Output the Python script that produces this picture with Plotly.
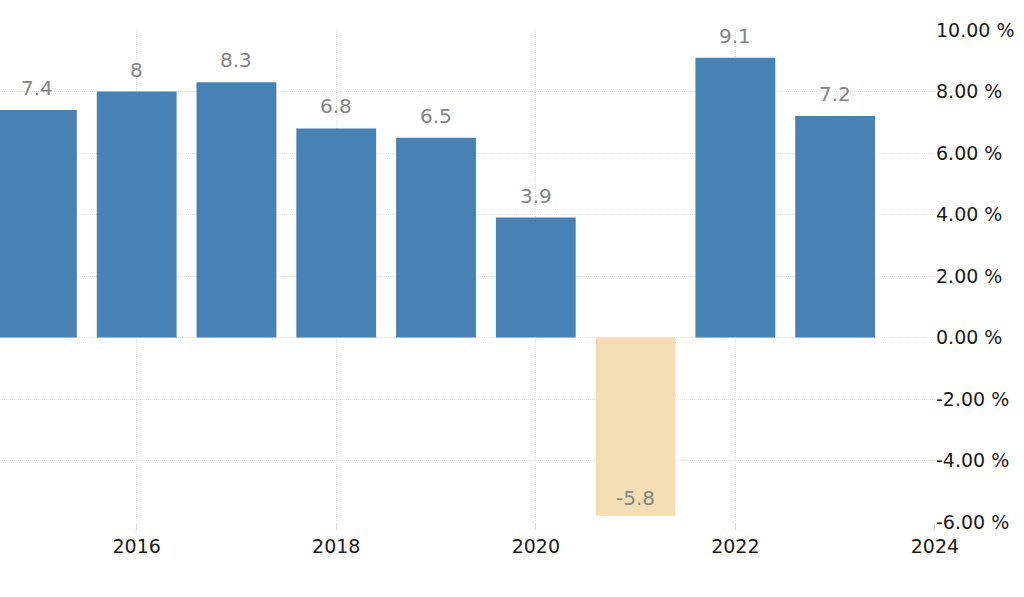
import plotly.graph_objects as go

years = [2015, 2016, 2017, 2018, 2019, 2020, 2021, 2022, 2023]
values = [7.4, 8.0, 8.3, 6.8, 6.5, 3.9, -5.8, 9.1, 7.2]
labels = ["7.4", "8", "8.3", "6.8", "6.5", "3.9", "-5.8", "9.1", "7.2"]
x_ticks = [2016, 2018, 2020, 2022, 2024]
y_ticks = [-6, -4, -2, 0, 2, 4, 6, 8, 10]
y_ticktext = ["-6.00 %", "-4.00 %", "-2.00 %", "0.00 %", "2.00 %",
              "4.00 %", "6.00 %", "8.00 %", "10.00 %"]

POS = "#4682B4"
NEG = "#F5DEB3"
colors = [POS if v >= 0 else NEG for v in values]

fig = go.Figure(go.Bar(
    x=years, y=values, width=0.8,
    marker=dict(color=colors, line=dict(width=0)),
    hoverinfo="x+y",
))

for x, v, t in zip(years, values, labels):
    fig.add_annotation(
        x=x, y=v, text=t, showarrow=False,
        yanchor="bottom", yshift=8 if v >= 0 else 4,
        font=dict(family="DejaVu Sans", size=20, color="#858585"),
    )

grid = "#e2e2e2"
fig.update_layout(
    width=1024, height=597,
    margin=dict(l=0, r=89, t=30, b=75),
    plot_bgcolor="white", paper_bgcolor="white",
    showlegend=False,
    font=dict(family="DejaVu Sans", size=18, color="#222"),
    xaxis=dict(
        range=[2014.63, 2024.001], tickvals=x_ticks, ticktext=[str(t) for t in x_ticks],
        showgrid=True, gridcolor=grid, griddash="1px,1px", gridwidth=1,
        ticks="outside", ticklen=7, tickcolor="#dcdcdc",
        zeroline=False, showline=False, automargin=False,
        tickfont=dict(size=19, color="#1a1a1a"),
    ),
    yaxis=dict(
        side="right", range=[-6, 10], tickvals=y_ticks, ticktext=y_ticktext,
        showgrid=True, gridcolor=grid, griddash="1px,1px", gridwidth=1,
        zeroline=False, showline=False, ticks="", automargin=False,
        tickfont=dict(size=19, color="#1a1a1a"),
    ),
)

fig.write_html(
    "out.html",
    config={"displayModeBar": False},
    post_script="document.body.style.margin='0';document.body.style.overflow='hidden';",
)
